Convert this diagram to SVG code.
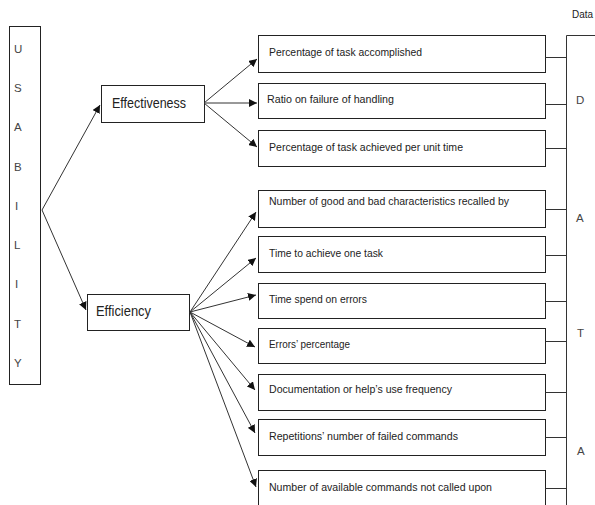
<svg xmlns="http://www.w3.org/2000/svg" width="595" height="505" viewBox="0 0 595 505">
<style>
.box{fill:#fff;stroke:#222;stroke-width:1}
.ln{fill:none;stroke:#333;stroke-width:1}
.t{font-family:"Liberation Sans",Arial,sans-serif;font-size:10.5px;fill:#222}
.big{font-family:"Liberation Sans",Arial,sans-serif;font-size:14px;fill:#222}
.let{font-family:"Liberation Sans",Arial,sans-serif;font-size:11.5px;fill:#444}
</style>
<defs>
<marker id="ah" markerUnits="userSpaceOnUse" markerWidth="9" markerHeight="8" refX="8" refY="4" orient="auto">
<path d="M0,0 L8,4 L0,8 Z" fill="#111"/>
</marker>
</defs>
<rect width="595" height="505" fill="#fff"/>

<g id="usability">
<rect class="box" x="9.5" y="26.5" width="31" height="358"/>
<text class="let" x="14" y="53">U</text>
<text class="let" x="14" y="92">S</text>
<text class="let" x="14" y="131">A</text>
<text class="let" x="14" y="171">B</text>
<text class="let" x="15" y="210">I</text>
<text class="let" x="14" y="249">L</text>
<text class="let" x="15" y="288">I</text>
<text class="let" x="14" y="328">T</text>
<text class="let" x="14" y="367">Y</text>
</g>

<g id="effectiveness">
<rect class="box" x="101.5" y="85.5" width="103" height="37"/>
<text class="big" x="112" y="108" textLength="74" lengthAdjust="spacingAndGlyphs">Effectiveness</text>
</g>

<g id="efficiency">
<rect class="box" x="87.5" y="294.5" width="102" height="36"/>
<text class="big" x="96" y="316" textLength="55" lengthAdjust="spacingAndGlyphs">Efficiency</text>
</g>

<g id="m1"><rect class="box" x="258.5" y="35.5" width="287" height="37"/><text class="t" x="269" y="56" textLength="153" lengthAdjust="spacingAndGlyphs">Percentage of task accomplished</text></g>
<g id="m2"><rect class="box" x="258.5" y="83.5" width="287" height="35"/><text class="t" x="267" y="103" textLength="127" lengthAdjust="spacingAndGlyphs">Ratio on failure of handling</text></g>
<g id="m3"><rect class="box" x="258.5" y="130.5" width="287" height="36"/><text class="t" x="269" y="151" textLength="194" lengthAdjust="spacingAndGlyphs">Percentage of task achieved per unit time</text></g>
<g id="m4"><rect class="box" x="258.5" y="190.5" width="287" height="37"/><text class="t" x="269" y="205" textLength="240" lengthAdjust="spacingAndGlyphs">Number of good and bad characteristics recalled by</text></g>
<g id="m5"><rect class="box" x="258.5" y="236.5" width="287" height="36"/><text class="t" x="269" y="257" textLength="114" lengthAdjust="spacingAndGlyphs">Time to achieve one task</text></g>
<g id="m6"><rect class="box" x="258.5" y="283.5" width="287" height="35"/><text class="t" x="269" y="303" textLength="98" lengthAdjust="spacingAndGlyphs">Time spend on errors</text></g>
<g id="m7"><rect class="box" x="258.5" y="328.5" width="287" height="35"/><text class="t" x="269" y="348" textLength="81" lengthAdjust="spacingAndGlyphs">Errors’ percentage</text></g>
<g id="m8"><rect class="box" x="258.5" y="374.5" width="287" height="36"/><text class="t" x="269" y="393" textLength="183" lengthAdjust="spacingAndGlyphs">Documentation or help’s use frequency</text></g>
<g id="m9"><rect class="box" x="258.5" y="419.5" width="287" height="36"/><text class="t" x="269" y="440" textLength="189" lengthAdjust="spacingAndGlyphs">Repetitions’ number of failed commands</text></g>
<g id="m10"><rect class="box" x="258.5" y="470.5" width="287" height="40"/><text class="t" x="269" y="491" textLength="223" lengthAdjust="spacingAndGlyphs">Number of available commands not called upon</text></g>

<g id="data">
<text class="t" x="572" y="18" font-size="9px" textLength="21" lengthAdjust="spacingAndGlyphs">Data</text>
<text class="let" x="576" y="104">D</text>
<text class="let" x="576" y="222">A</text>
<text class="let" x="577" y="337">T</text>
<text class="let" x="577" y="455">A</text>
</g>

<g id="connectors">
<path class="ln" d="M42,210 L100,105" marker-end="url(#ah)"/>
<path class="ln" d="M42,210 L86,310" marker-end="url(#ah)"/>
<path class="ln" d="M204,103 L257,59" marker-end="url(#ah)"/>
<path class="ln" d="M204,103 L257,103" marker-end="url(#ah)"/>
<path class="ln" d="M204,103 L257,147" marker-end="url(#ah)"/>
<path class="ln" d="M190,312 L256,212" marker-end="url(#ah)"/>
<path class="ln" d="M190,312 L256,258" marker-end="url(#ah)"/>
<path class="ln" d="M190,312 L256,295" marker-end="url(#ah)"/>
<path class="ln" d="M190,312 L255,347" marker-end="url(#ah)"/>
<path class="ln" d="M190,312 L255,390" marker-end="url(#ah)"/>
<path class="ln" d="M190,312 L255,433" marker-end="url(#ah)"/>
<path class="ln" d="M190,312 L256,487" marker-end="url(#ah)"/>
<path class="ln" d="M595,35.5 H566.5 V505"/>
<path class="ln" d="M545.5,57.5 H566.5 M545.5,104.5 H566.5 M545.5,148.5 H566.5 M545.5,209.5 H566.5 M545.5,255.5 H566.5 M545.5,301.5 H566.5 M545.5,341.5 H566.5 M545.5,392.5 H566.5 M545.5,437.5 H566.5 M545.5,488.5 H566.5"/>
</g>
</svg>
